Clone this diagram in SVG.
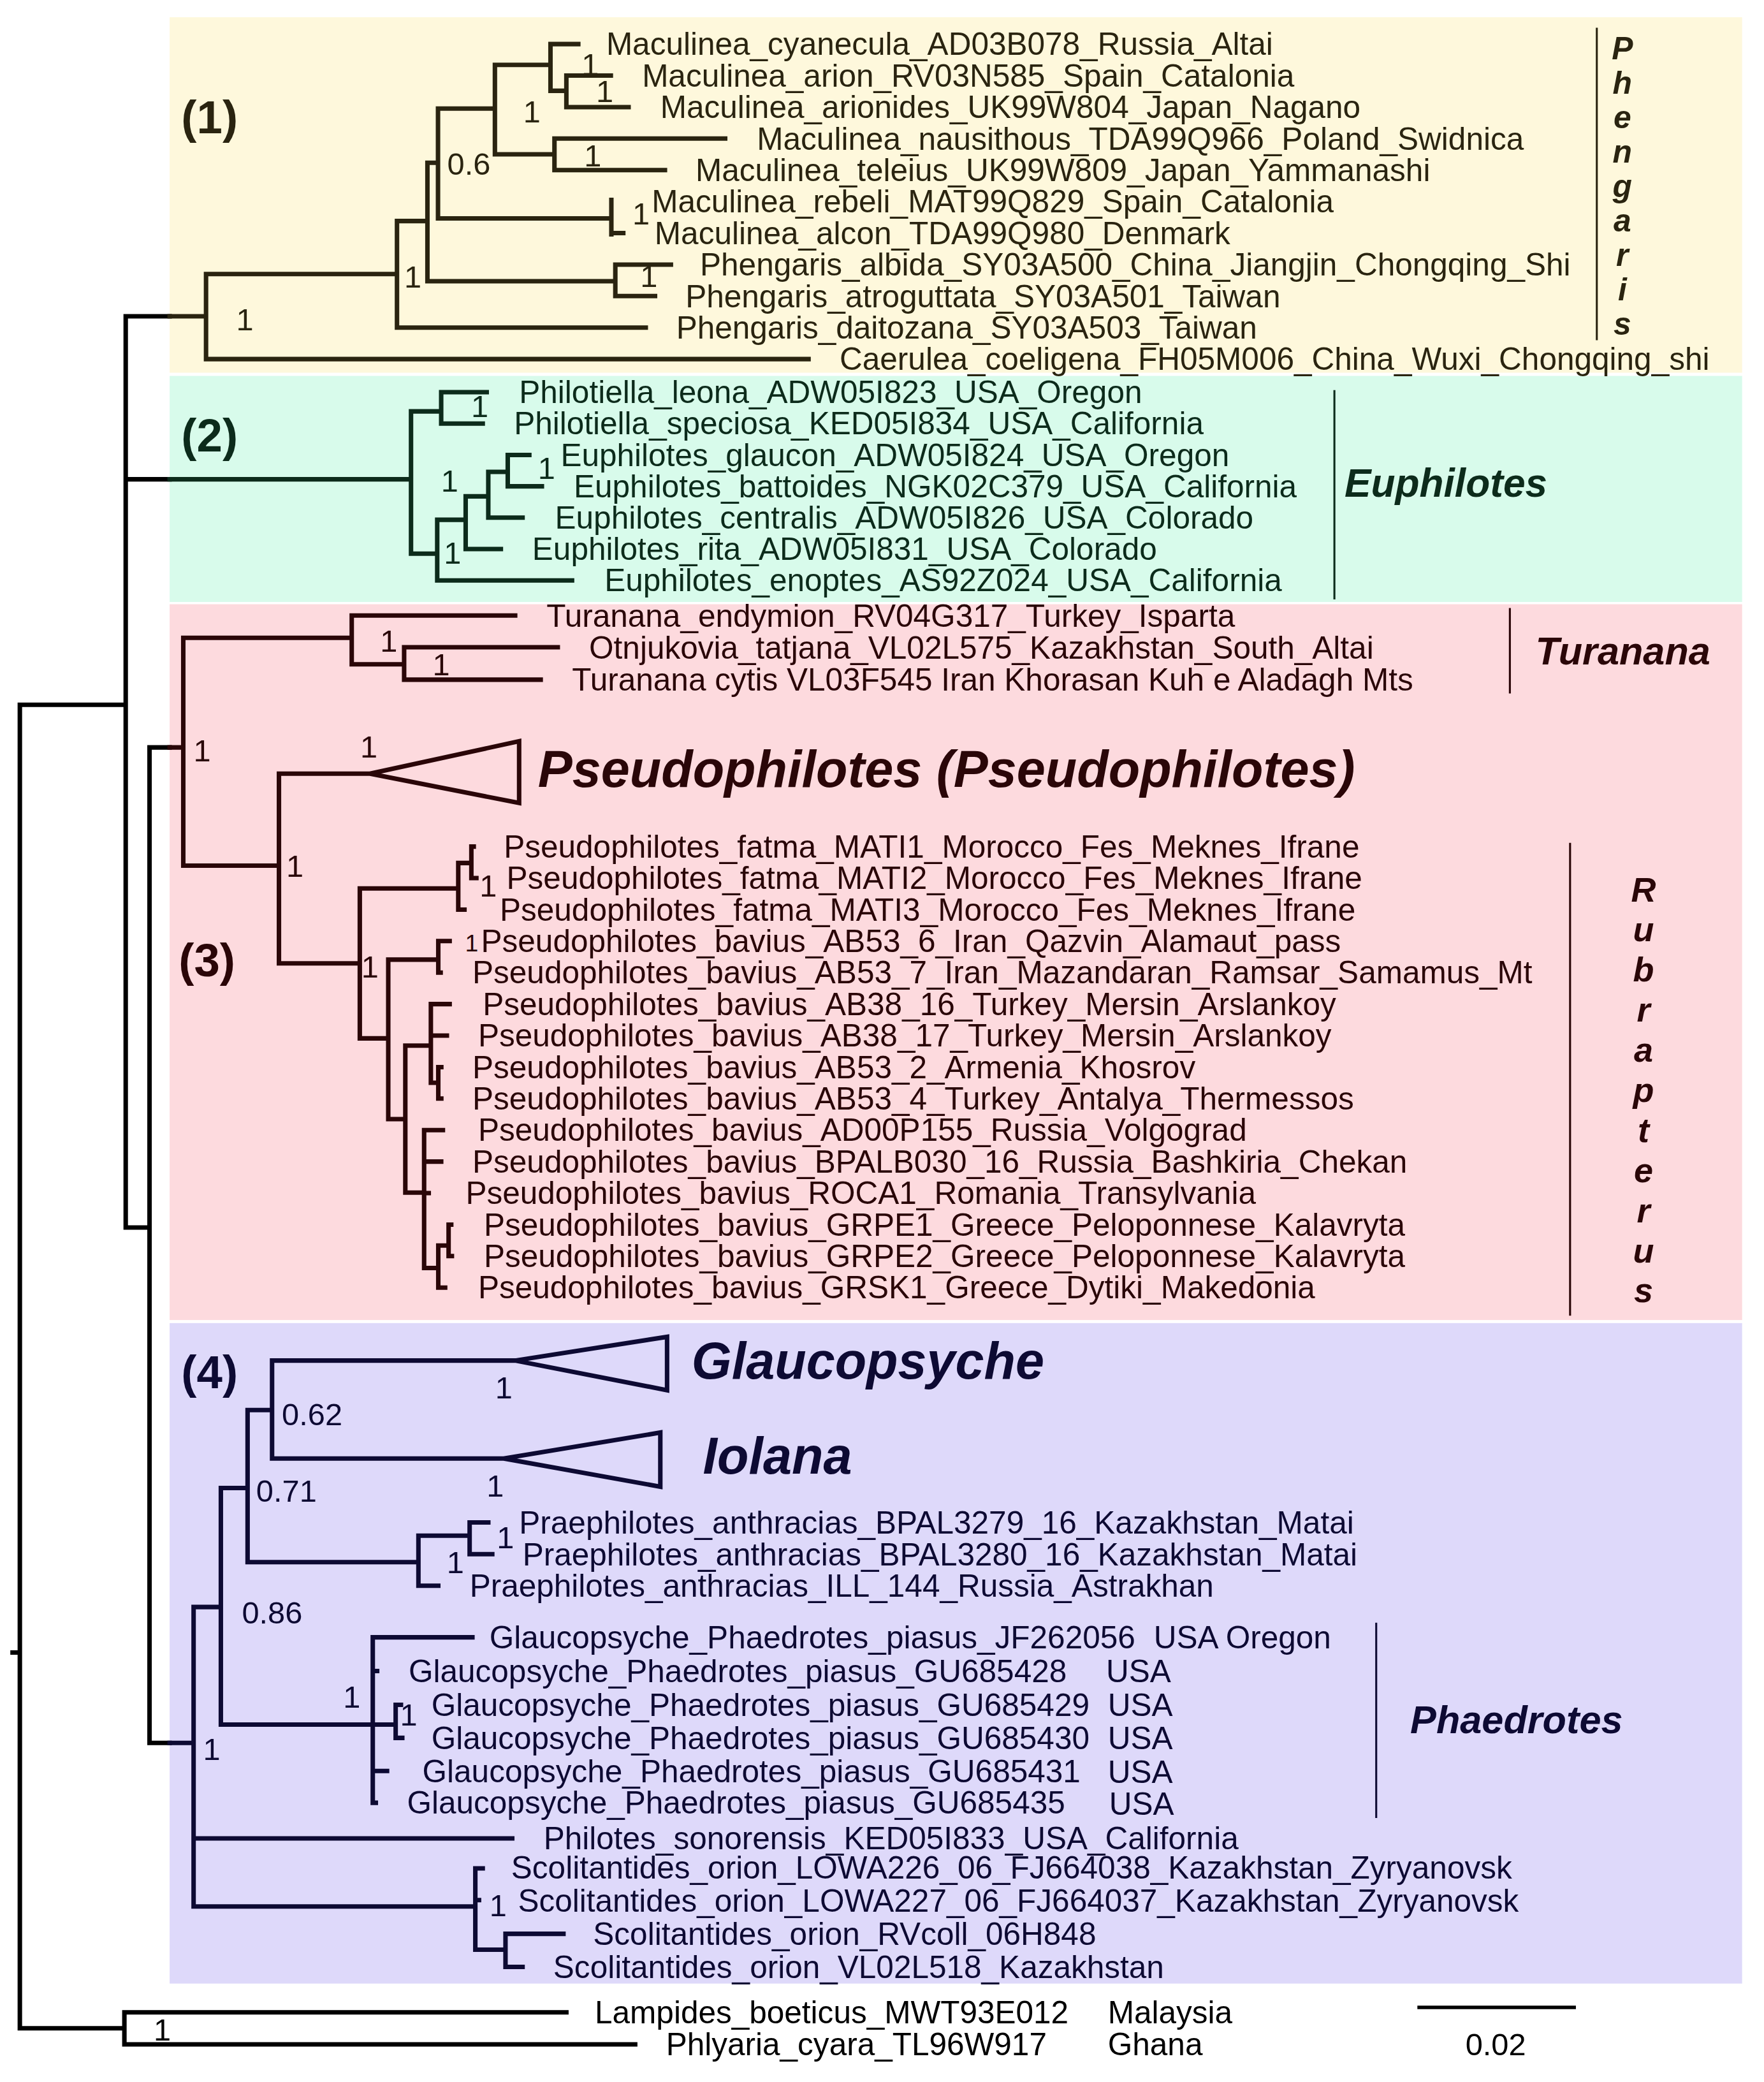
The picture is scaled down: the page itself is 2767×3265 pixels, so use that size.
<svg xmlns="http://www.w3.org/2000/svg" width="2767" height="3265" viewBox="0 0 2767 3265">
<style>
text{font-family:"Liberation Sans",Arial,Helvetica,sans-serif}
.br{fill:none;stroke-width:3.4;stroke-linecap:square;stroke-linejoin:miter}
.k{stroke:#000}
.b1{stroke:#2A2410}
.b2{stroke:#0C2B1B}
.b3{stroke:#2A0608}
.b4{stroke:#0D0A33}
.bar{fill:none;stroke-width:1.5}
.c0{fill:#000}
.c1{fill:#2A2410}
.c2{fill:#0C2B1B}
.c3{fill:#2A0608}
.c4{fill:#0D0A33}
.n{font-size:23.86px}
.s{font-size:23.5px}
.m{text-anchor:middle}
.g{font-weight:bold;font-style:italic}
.p{font-weight:bold;font-size:35px}
</style>
<rect width="2767" height="3265" fill="#fff"/>
<g transform="scale(2.0757)">
<g id="backgrounds">
<rect x="128.2" y="13" width="1188.3" height="268.6" fill="#FEF8DC"/>
<rect x="128.2" y="284" width="1188.3" height="170.8" fill="#D8FBEB"/>
<rect x="128.2" y="456.5" width="1188.3" height="540.8" fill="#FDDADE"/>
<rect x="128.2" y="999.6" width="1188.3" height="499" fill="#DED9FA"/>
</g>
<g id="connectors">
<path class="br k" d="M15,532.5 V1532.4 M15,532.5 H95 M95,239 V927.4 M95,239 H128.2 M95,362.1 H128.2 M95,927.4 H113 M113,564.7 V1316.8 M113,564.7 H128.2 M113,1316.8 H128.2 M15,1532.4 H94 M94,1520.3 V1544.5 M94,1520.3 H428 M94,1544.5 H480 M9.5,1248.5 H14"/>
<path class="br b1" d="M128.2,239 H155.7 M155.7,207 V271.3 M155.7,207 H300 M155.7,271.3 H611 M300,167 V247.5 M300,167 H323 M300,247.5 H488 M323,123 V212.5 M323,123 H331 M323,212.5 H465 M331,82 V165 M331,82 H374 M331,165 H462 M374,49 V116.6 M374,49 H416 M374,116.6 H419 M416,33.3 V68.6 M416,33.3 H437 M416,68.6 H428 M428,57.1 V80.9 M428,57.1 H461.6 M428,80.9 H475 M419,104.7 V128.5 M419,104.7 H548 M419,128.5 H502.5 M462,151 V177 M462,176.1 H471 M465,199.9 V223.7 M465,199.9 H507 M465,223.7 H495"/>
<path class="br b2" d="M128.2,362.1 H310.6 M310.6,310.8 V418.3 M310.6,310.8 H333.4 M310.6,418.3 H330.4 M333.4,296.3 V320 M333.4,296.3 H367.8 M333.4,320 H364.8 M330.4,392.7 V438.5 M330.4,392.7 H351.9 M330.4,438.5 H432.3 M351.9,375 V414.8 M351.9,375 H369 M351.9,414.8 H378.5 M369,356.5 V391.1 M369,356.5 H383.7 M369,391.1 H394.9 M383.7,343.7 V367.4 M383.7,343.7 H400 M383.7,367.4 H409.5"/>
<path class="br b3" d="M128.2,564.7 H138.5 M138.5,481.9 V654 M138.5,481.9 H265.8 M138.5,654 H210.8 M265.8,465 V501.9 M265.8,465 H389.3 M265.8,501.9 H305.4 M305.4,489 V513.5 M305.4,489 H421.5 M305.4,513.5 H408.6 M210.8,584.5 V727.8 M210.8,584.5 H279.6 M210.8,727.8 H271.9 M279.6,584.5 L392.3,560 V606.7 Z M271.9,671.2 V784.5 M271.9,671.2 H346.3 M271.9,784.5 H293.4 M346.3,652 V687.2 M346.3,652 H356.2 M346.3,687.2 H351 M356.2,639.6 V663.4 M356.2,639.6 H358 M356.2,663.4 H360 M293.4,725 V845.5 M293.4,725 H331.2 M293.4,845.5 H306.3 M331.2,711 V734.8 M331.2,711 H339.8 M331.2,734.8 H333 M306.3,790 V901 M306.3,790 H325.6 M306.3,901 H320.5 M325.6,758.6 V818 M325.6,758.6 H339.8 M325.6,782.4 H337.7 M325.6,818 H331.2 M331.2,806.2 V830 M331.2,806.2 H333.5 M331.2,830 H333.5 M320.5,853.8 V958 M320.5,853.8 H334.7 M320.5,877.6 H333.4 M320.5,901.4 H324 M320.5,958 H331.2 M331.2,941 V972.8 M331.2,941 H339 M331.2,972.8 H336.4 M339,925.2 V949 M339,925.2 H341 M339,949 H341.5"/>
<path class="br b4" d="M128.2,1316.8 H146.3 M146.3,1214.1 V1440.4 M146.3,1214.1 H166.9 M146.3,1388.9 H387.1 M146.3,1440.4 H359.2 M166.9,1124.2 V1302.9 M166.9,1124.2 H187.1 M166.9,1302.9 H299 M187.1,1065.3 V1180.2 M187.1,1065.3 H205.6 M187.1,1180.2 H316.2 M205.6,1027.9 V1101.9 M205.6,1027.9 H389.3 M205.6,1101.9 H380.7 M389.3,1027.9 L504.1,1010 V1050.3 Z M380.7,1101.9 L499,1082.3 V1123.2 Z M316.2,1160.2 V1198 M316.2,1160.2 H354.9 M316.2,1198 H331.2 M354.9,1150.2 V1174.2 M354.9,1150.2 H369 M354.9,1174.2 H372 M281.7,1237 V1362 M281.7,1237 H357 M281.7,1262.5 H285 M299,1288 V1313 M299,1288 H303 M299,1313 H304 M281.7,1338 H292.5 M281.7,1362 H284 M359.2,1411.6 V1473 M359.2,1411.6 H364.8 M359.2,1435.5 H362 M359.2,1473 H382 M382,1461 V1486 M382,1461 H425.8 M382,1486 H394.9"/>
<path class="bar b1" d="M1206.7,21 V257"/>
<path class="bar b2" d="M1008.4,294.7 V452.9"/>
<path class="bar b3" d="M1141,459.4 V523.9 M1186.5,636.8 V994"/>
<path class="bar b4" d="M1040,1226 V1373.5"/>
<path class="br k" style="stroke-width:2.6" d="M1072.4,1516.6 H1189.6"/>
</g>
<g id="clade1">
<text class="p c1" x="137" y="100.6">(1)</text>
<text class="n c1" x="458.1" y="41.6">Maculinea_cyanecula_AD03B078_Russia_Altai</text>
<text class="n c1" x="485.2" y="65.4">Maculinea_arion_RV03N585_Spain_Catalonia</text>
<text class="n c1" x="499" y="89.2">Maculinea_arionides_UK99W804_Japan_Nagano</text>
<text class="n c1" x="572" y="113">Maculinea_nausithous_TDA99Q966_Poland_Swidnica</text>
<text class="n c1" x="525.6" y="136.8">Maculinea_teleius_UK99W809_Japan_Yammanashi</text>
<text class="n c1" x="492.5" y="160.6">Maculinea_rebeli_MAT99Q829_Spain_Catalonia</text>
<text class="n c1" x="494.7" y="184.4">Maculinea_alcon_TDA99Q980_Denmark</text>
<text class="n c1" x="529" y="208.2">Phengaris_albida_SY03A500_China_Jiangjin_Chongqing_Shi</text>
<text class="n c1" x="518" y="232">Phengaris_atroguttata_SY03A501_Taiwan</text>
<text class="n c1" x="511" y="255.8">Phengaris_daitozana_SY03A503_Taiwan</text>
<text class="n c1" x="634.5" y="279.6">Caerulea_coeligena_FH05M006_China_Wuxi_Chongqing_shi</text>
<text class="s c1 m" x="185" y="249.4">1</text>
<text class="s c1 m" x="312" y="217.4">1</text>
<text class="s c1" x="338" y="132.1">0.6</text>
<text class="s c1 m" x="402" y="92.4">1</text>
<text class="s c1 m" x="446" y="57">1</text>
<text class="s c1 m" x="457" y="77">1</text>
<text class="s c1 m" x="448" y="125.6">1</text>
<text class="s c1 m" x="484.5" y="169.4">1</text>
<text class="s c1 m" x="490.4" y="217">1</text>
<text class="g c1 m" font-size="24"><tspan x="1226" y="45">P</tspan><tspan x="1226" y="71">h</tspan><tspan x="1226" y="97">e</tspan><tspan x="1226" y="123">n</tspan><tspan x="1226" y="149">g</tspan><tspan x="1226" y="175">a</tspan><tspan x="1226" y="201">r</tspan><tspan x="1226" y="227">i</tspan><tspan x="1226" y="253">s</tspan></text>
</g>
<g id="clade2">
<text class="p c2" x="137" y="341">(2)</text>
<text class="n c2" x="392.3" y="304.6">Philotiella_leona_ADW05I823_USA_Oregon</text>
<text class="n c2" x="388.4" y="328.3">Philotiella_speciosa_KED05I834_USA_California</text>
<text class="n c2" x="423.7" y="352">Euphilotes_glaucon_ADW05I824_USA_Oregon</text>
<text class="n c2" x="433.6" y="375.7">Euphilotes_battoides_NGK02C379_USA_California</text>
<text class="n c2" x="419.4" y="399.4">Euphilotes_centralis_ADW05I826_USA_Colorado</text>
<text class="n c2" x="402.2" y="423.1">Euphilotes_rita_ADW05I831_USA_Colorado</text>
<text class="n c2" x="456.8" y="446.8">Euphilotes_enoptes_AS92Z024_USA_California</text>
<text class="s c2 m" x="362.6" y="315.1">1</text>
<text class="s c2 m" x="413" y="361.7">1</text>
<text class="s c2 m" x="339.8" y="371.3">1</text>
<text class="s c2 m" x="342" y="425.9">1</text>
<text class="g c2" font-size="30" x="1016" y="375.5">Euphilotes</text>
</g>
<g id="clade3">
<text class="p c3" x="135" y="737.7">(3)</text>
<text class="n c3" x="413" y="473.5">Turanana_endymion_RV04G317_Turkey_Isparta</text>
<text class="n c3" x="445.2" y="497.5">Otnjukovia_tatjana_VL02L575_Kazakhstan_South_Altai</text>
<text class="n c3" x="432.3" y="521.8">Turanana cytis VL03F545 Iran Khorasan Kuh e Aladagh Mts</text>
<text class="g c3" font-size="29.5" x="1160.3" y="502">Turanana</text>
<text class="g c3" font-size="39" x="406.5" y="594.5">Pseudophilotes (Pseudophilotes)</text>
<text class="n c3" x="380.7" y="647.9">Pseudophilotes_fatma_MATI1_Morocco_Fes_Meknes_Ifrane</text>
<text class="n c3" x="382.8" y="671.7">Pseudophilotes_fatma_MATI2_Morocco_Fes_Meknes_Ifrane</text>
<text class="n c3" x="377.7" y="695.5">Pseudophilotes_fatma_MATI3_Morocco_Fes_Meknes_Ifrane</text>
<text class="n c3" x="363.5" y="719.3">Pseudophilotes_bavius_AB53_6_Iran_Qazvin_Alamaut_pass</text>
<text class="n c3" x="357" y="743.1">Pseudophilotes_bavius_AB53_7_Iran_Mazandaran_Ramsar_Samamus_Mt</text>
<text class="n c3" x="364.8" y="766.9">Pseudophilotes_bavius_AB38_16_Turkey_Mersin_Arslankoy</text>
<text class="n c3" x="361.3" y="790.7">Pseudophilotes_bavius_AB38_17_Turkey_Mersin_Arslankoy</text>
<text class="n c3" x="357" y="814.5">Pseudophilotes_bavius_AB53_2_Armenia_Khosrov</text>
<text class="n c3" x="357" y="838.3">Pseudophilotes_bavius_AB53_4_Turkey_Antalya_Thermessos</text>
<text class="n c3" x="361.3" y="862.1">Pseudophilotes_bavius_AD00P155_Russia_Volgograd</text>
<text class="n c3" x="357" y="885.9">Pseudophilotes_bavius_BPALB030_16_Russia_Bashkiria_Chekan</text>
<text class="n c3" x="351.9" y="909.7">Pseudophilotes_bavius_ROCA1_Romania_Transylvania</text>
<text class="n c3" x="365.6" y="933.5">Pseudophilotes_bavius_GRPE1_Greece_Peloponnese_Kalavryta</text>
<text class="n c3" x="365.6" y="957.3">Pseudophilotes_bavius_GRPE2_Greece_Peloponnese_Kalavryta</text>
<text class="n c3" x="361.3" y="981.1">Pseudophilotes_bavius_GRSK1_Greece_Dytiki_Makedonia</text>
<text class="s c3 m" x="293.8" y="492.5">1</text>
<text class="s c3 m" x="333.4" y="510.4">1</text>
<text class="s c3 m" x="152.7" y="575.3">1</text>
<text class="s c3 m" x="278.7" y="572.1">1</text>
<text class="s c3 m" x="222.8" y="662.4">1</text>
<text class="s c3 m" x="369" y="677.4">1</text>
<text class="c3 m" font-size="18" x="356.5" y="719">1</text>
<text class="s c3 m" x="279.6" y="738.7">1</text>
<text class="g c3 m" font-size="26"><tspan x="1242" y="681">R</tspan><tspan x="1242" y="711.3">u</tspan><tspan x="1242" y="741.6">b</tspan><tspan x="1242" y="771.9">r</tspan><tspan x="1242" y="802.2">a</tspan><tspan x="1242" y="832.5">p</tspan><tspan x="1242" y="862.8">t</tspan><tspan x="1242" y="893.1">e</tspan><tspan x="1242" y="923.4">r</tspan><tspan x="1242" y="953.7">u</tspan><tspan x="1242" y="984">s</tspan></text>
</g>
<g id="clade4">
<text class="p c4" x="137" y="1049">(4)</text>
<text class="g c4" font-size="39" x="522.6" y="1041.5">Glaucopsyche</text>
<text class="g c4" font-size="39" x="531.2" y="1113.5">Iolana</text>
<text class="n c4" x="392.3" y="1158.5">Praephilotes_anthracias_BPAL3279_16_Kazakhstan_Matai</text>
<text class="n c4" x="394.9" y="1182.5">Praephilotes_anthracias_BPAL3280_16_Kazakhstan_Matai</text>
<text class="n c4" x="354.9" y="1206.3">Praephilotes_anthracias_ILL_144_Russia_Astrakhan</text>
<text class="n c4" x="369.9" y="1245.3">Glaucopsyche_Phaedrotes_piasus_JF262056</text>
<text class="n c4" x="871.9" y="1245.3">USA Oregon</text>
<text class="n c4" x="308.8" y="1270.8">Glaucopsyche_Phaedrotes_piasus_GU685428</text>
<text class="n c4" x="835.9" y="1270.8">USA</text>
<text class="n c4" x="326" y="1296.3">Glaucopsyche_Phaedrotes_piasus_GU685429</text>
<text class="n c4" x="837.2" y="1296.3">USA</text>
<text class="n c4" x="326" y="1321.3">Glaucopsyche_Phaedrotes_piasus_GU685430</text>
<text class="n c4" x="837.2" y="1321.3">USA</text>
<text class="n c4" x="319.2" y="1346.3">Glaucopsyche_Phaedrotes_piasus_GU685431</text>
<text class="n c4" x="837.2" y="1346.8">USA</text>
<text class="n c4" x="307.6" y="1370.3">Glaucopsyche_Phaedrotes_piasus_GU685435</text>
<text class="n c4" x="838.1" y="1371.3">USA</text>
<text class="g c4" font-size="29.5" x="1065.7" y="1309.5">Phaedrotes</text>
<text class="n c4" x="410.8" y="1397.2">Philotes_sonorensis_KED05I833_USA_California</text>
<text class="n c4" x="386.3" y="1419.2">Scolitantides_orion_LOWA226_06_FJ664038_Kazakhstan_Zyryanovsk</text>
<text class="n c4" x="391.4" y="1444.3">Scolitantides_orion_LOWA227_06_FJ664037_Kazakhstan_Zyryanovsk</text>
<text class="n c4" x="448.2" y="1469.3">Scolitantides_orion_RVcoll_06H848</text>
<text class="n c4" x="418.1" y="1494.3">Scolitantides_orion_VL02L518_Kazakhstan</text>
<text class="s c4" x="213" y="1076.7">0.62</text>
<text class="s c4" x="193.6" y="1134.6">0.71</text>
<text class="s c4" x="182.8" y="1226.5">0.86</text>
<text class="s c4 m" x="380.7" y="1056.7">1</text>
<text class="s c4 m" x="374.2" y="1130.6">1</text>
<text class="s c4 m" x="382" y="1169.6">1</text>
<text class="s c4 m" x="344.1" y="1188.6">1</text>
<text class="s c4 m" x="265.8" y="1290.4">1</text>
<text class="s c4 m" x="308.9" y="1303.8">1</text>
<text class="s c4 m" x="160" y="1329.9">1</text>
<text class="s c4 m" x="376.4" y="1447.9">1</text>
</g>
<g id="outgroup">
<text class="n c0" x="449.5" y="1528.6">Lampides_boeticus_MWT93E012</text>
<text class="n c0" x="837.2" y="1528.6">Malaysia</text>
<text class="n c0" x="503.3" y="1552.8">Phlyaria_cyara_TL96W917</text>
<text class="n c0" x="837.2" y="1552.8">Ghana</text>
<text class="s c0 m" x="122.6" y="1541.7">1</text>
</g>
<g id="scalebar">
<text class="s c0 m" x="1130.3" y="1552.8">0.02</text>
</g>
</g>
</svg>
